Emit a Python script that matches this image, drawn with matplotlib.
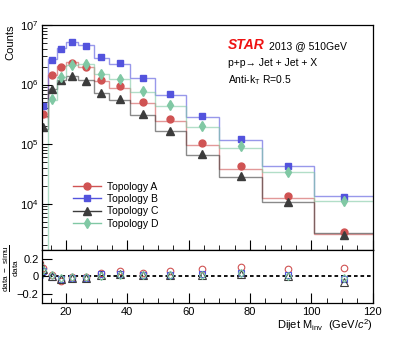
import matplotlib
matplotlib.use('Agg')
import matplotlib.pyplot as plt
import numpy as np
from matplotlib.lines import Line2D
from matplotlib.ticker import MultipleLocator, LogLocator, NullFormatter

plt.rcParams['font.family'] = ['Liberation Sans', 'DejaVu Sans']
plt.rcParams['mathtext.fontset'] = 'custom'
plt.rcParams['mathtext.rm'] = 'Liberation Sans'
plt.rcParams['mathtext.it'] = 'Liberation Sans:italic'
plt.rcParams['mathtext.bf'] = 'Liberation Sans:bold'

# bin edges and centres of the dijet mass histogram (GeV/c^2)
edges = [11, 14, 17, 20, 24, 29, 34, 41, 49, 59, 70, 84, 101, 120]
centers = [12.5, 15.5, 18.5, 22, 26.5, 31.5, 37.5, 45, 54, 64.5, 77, 92.5, 110.5]

# log10 of the counts
log_a = [5.50, 6.16, 6.29, 6.37, 6.29, 6.07, 5.97, 5.71, 5.42, 5.02, 4.63, 4.13, 3.53]
log_b = [5.64, 6.42, 6.60, 6.71, 6.65, 6.46, 6.36, 6.11, 5.84, 5.47, 5.09, 4.64, 4.11]
log_c = [5.29, 5.93, 6.07, 6.14, 6.06, 5.86, 5.75, 5.50, 5.22, 4.83, 4.46, 4.02, 3.48]
log_d = [3.00, 5.75, 6.12, 6.33, 6.34, 6.17, 6.10, 5.89, 5.65, 5.30, 4.96, 4.54, 4.04]

# (data - simu) / data
ratio_a = [0.10, 0.01, -0.05, -0.01, -0.01, 0.04, 0.06, 0.04, 0.06, 0.09, 0.11, 0.09, 0.10]
ratio_b = [0.06, -0.01, -0.03, -0.02, -0.02, 0.03, 0.03, 0.01, 0.02, 0.03, 0.04, 0.01, -0.03]
ratio_c = [0.08, 0.00, -0.03, -0.02, -0.02, 0.02, 0.03, 0.01, 0.01, 0.02, 0.03, 0.00, -0.07]
ratio_d = [0.07, 0.02, -0.02, -0.01, -0.01, 0.00, 0.01, 0.02, 0.01, 0.02, 0.04, 0.00, -0.02]
ratio_err = [0.08, 0, 0, 0, 0, 0, 0, 0, 0, 0, 0, 0, 0]

labels = ['Topology A', 'Topology B', 'Topology C', 'Topology D']
colors = ['#d05353', '#5353dd', '#3c3c3c', '#80c8a4']
markers = ['o', 's', '^', 'd']
msizes = [5, 4.6, 5.4, 4.6]

fig = plt.figure(figsize=(4.15, 3.57), dpi=100)
ax = fig.add_axes([0.1, 0.301, 0.798, 0.629])
axr = fig.add_axes([0.1, 0.151, 0.798, 0.150], sharex=ax)

for lg, rt, col, mk, ms, lab in zip([log_a, log_b, log_c, log_d],
                                    [ratio_a, ratio_b, ratio_c, ratio_d],
                                    colors, markers, msizes, labels):
    data = 10 ** np.array(lg)
    simu = data * (1 - np.array(rt))
    ax.stairs(simu, edges, baseline=None, color=col, alpha=0.6, lw=1.0)
    ax.plot(centers, data, ls='none', marker=mk, ms=ms, color=col, mec=col)
    axr.errorbar(centers, rt, yerr=ratio_err, ls='none', marker=mk, ms=ms * 0.95,
                 mfc='none', mec=col, ecolor=col, elinewidth=0.8, capsize=0,
                 mew=0.8)

ax.set_yscale('log')
ax.set_xlim(12, 120)
ax.set_ylim(10 ** 3.23, 1e7)
ax.yaxis.set_major_locator(LogLocator(base=10, numticks=10))
ax.yaxis.set_minor_locator(LogLocator(base=10, subs=np.arange(2, 10), numticks=20))
ax.yaxis.set_minor_formatter(NullFormatter())
ax.xaxis.set_major_locator(MultipleLocator(20))
ax.xaxis.set_minor_locator(MultipleLocator(5))
ax.tick_params(which='both', direction='in', top=False, right=False, labelbottom=False)
ax.tick_params(which='major', length=7, width=0.8, labelsize=8, pad=2)
ax.tick_params(which='minor', length=3.5, width=0.6)

axr.set_ylim(-0.31, 0.31)
axr.set_yticks([-0.2, 0, 0.2])
axr.set_yticklabels(['\u22120.2', '0', '0.2'])
axr.axhline(0, color='black', lw=1.3, ls=(0, (2, 1.6)))
axr.tick_params(which='both', direction='in', top=False, right=False)
axr.tick_params(which='major', length=7, width=0.8, labelsize=8, pad=2)
axr.tick_params(which='minor', length=3.5, width=0.6)
axr.tick_params(axis='x', pad=3)

for a in (ax, axr):
    for s in a.spines.values():
        s.set_linewidth(0.9)

handles = [Line2D([], [], color=c, marker=m, ms=s, lw=1.0) for c, m, s in zip(colors, markers, msizes)]
ax.legend(handles, labels, loc='upper left', bbox_to_anchor=(0.078, 0.325), frameon=False,
          fontsize=7.5, handlelength=2.7, handletextpad=0.6, labelspacing=0.22, borderpad=0)

fig.text(0.026, 0.932, 'Counts', rotation=90, ha='center', va='top', fontsize=8)
fig.text(0.027, 0.249, r'$\frac{\rm data\ -\ simu}{\rm data}$', rotation=90,
         ha='center', va='center', fontsize=8.5)
fig.text(0.898, 0.079, r'Dijet M$_{\rm inv}$  (GeV/$c^{2}$)', ha='right', va='baseline', fontsize=8)

ax.text(0.564, 0.892, 'STAR', transform=ax.transAxes, color='#ee1111', fontsize=10,
        fontweight='bold', fontstyle='italic')
ax.text(0.686, 0.892, '2013 @ 510GeV', transform=ax.transAxes, fontsize=7.5)
ax.text(0.564, 0.817, 'p+p\u2192 Jet + Jet + X', transform=ax.transAxes, fontsize=7.5,
        family=['Liberation Sans', 'DejaVu Sans'])
ax.text(0.564, 0.742, r'Anti-k$_{\rm T}$ R=0.5', transform=ax.transAxes, fontsize=7.5)

fig.savefig('out.png', dpi=100)
